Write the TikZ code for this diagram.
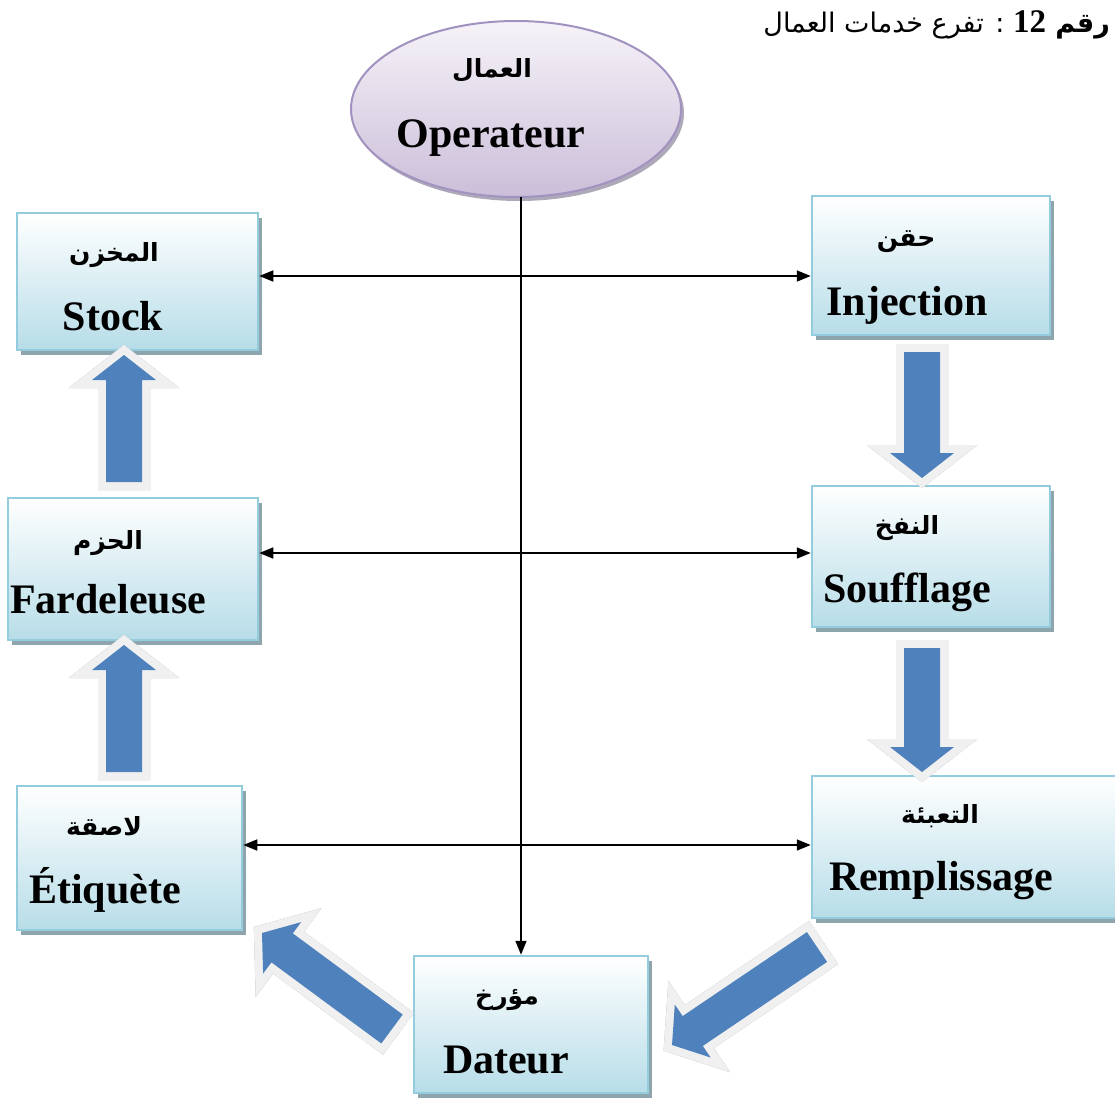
\documentclass[tikz,border=0pt]{standalone}
\usepackage{fontspec}
\setmainfont{Liberation Serif}
\newfontfamily\arabicfont[Script=Arabic]{DejaVu Sans}
\TeXXeTstate=1
\usetikzlibrary{arrows.meta,shadows,shapes.geometric,calc}

\definecolor{boxline}{HTML}{93CDDD}
\definecolor{boxbot}{HTML}{B7DDE8}
\definecolor{boxshadow}{HTML}{8FA5AD}
\definecolor{ellline}{HTML}{A292C0}
\definecolor{elltop}{HTML}{F6F3F8}
\definecolor{ellbot}{HTML}{CBBED9}
\definecolor{ellshadow}{HTML}{9A94A8}
\definecolor{flowblue}{HTML}{4F81BD}
\definecolor{flowrim}{HTML}{F0F0F0}
\definecolor{flowshadow}{HTML}{95A3B3}

\tikzset{
  stage/.style={rectangle, draw=boxline, line width=2.5pt, top color=white, bottom color=boxbot,
    inner sep=0pt, drop shadow={shadow xshift=4pt, shadow yshift=-5pt, fill=boxshadow, opacity=1}},
  worker/.style={ellipse, draw=ellline, line width=2pt, top color=elltop, bottom color=ellbot,
    inner sep=0pt, drop shadow={shadow xshift=3pt, shadow yshift=-4pt, fill=ellshadow, opacity=0.8}},
  latin/.style={font=\fontsize{42}{48}\selectfont\bfseries, inner sep=0pt, anchor=base},
  arab/.style={font=\arabicfont\fontsize{25}{30}\selectfont\bfseries, inner sep=0pt},
  link/.style={line width=1.6pt, draw=black},
  tip/.style={-{Triangle[length=14pt,width=11pt]}},
  tips/.style={{Triangle[length=14pt,width=11pt]}-{Triangle[length=14pt,width=11pt]}},
}

% block arrow outline from #1 (tail centre) to #2 (tip)
\newcommand\flowpath[2]{
  ($(#1)!18pt!90:(#2)$) -- ($($(#2)!25pt!(#1)$)!18pt!90:(#2)$)
  -- ($($(#2)!25pt!(#1)$)!32pt!90:(#2)$) -- (#2)
  -- ($($(#2)!25pt!(#1)$)!32pt!-90:(#2)$) -- ($($(#2)!25pt!(#1)$)!18pt!-90:(#2)$)
  -- ($(#1)!18pt!-90:(#2)$) -- cycle
}
\newcommand\flowarrow[2]{
  \filldraw[flowshadow, line width=16pt, xshift=4pt, yshift=-5pt] \flowpath{#1}{#2};
  \filldraw[flowrim, line width=16pt] \flowpath{#1}{#2};
  \fill[flowblue] \flowpath{#1}{#2};
}

\begin{document}
\begin{tikzpicture}[x=1pt, y=-1pt]
\useasboundingbox (0,0) rectangle (1115,1100);
\clip (0,0) rectangle (1115,1100);
\fill[white] (0,0) rectangle (1115,1100);

% caption
\node[anchor=base east, inner sep=0pt] (caption) at (1110,32)
  {\arabicfont\fontsize{27}{32}\selectfont\beginR{\bfseries رقم {\rmfamily\fontsize{33}{36}\selectfont\beginL 12\endL}} : تفرع خدمات العمال\endR};

% operator
\node[worker, minimum width=330, minimum height=176] (oper) at (516,109) {};
\node[arab] (operAr) at (492,70) {\beginR العمال\endR};
\node[latin] (operEn) at (491,147) {Operateur};

% stages
\node[stage, minimum width=241, minimum height=137] (stock) at (137.5,281.5) {};
\node[stage, minimum width=238, minimum height=139] (inj) at (931,265.5) {};
\node[stage, minimum width=250, minimum height=142] (fard) at (133,569) {};
\node[stage, minimum width=238, minimum height=141] (souf) at (931,556.5) {};
\node[stage, minimum width=225, minimum height=144] (etiq) at (129.5,858) {};
\node[stage, minimum width=313, minimum height=142] (remp) at (968.5,847) {};
\node[stage, minimum width=234, minimum height=137] (dat) at (531,1024.5) {};

\node[arab] (stockAr) at (114,255) {\beginR المخزن\endR};
\node[latin] (stockEn) at (113,330) {Stock};
\node[arab] (injAr) at (906,242) {\beginR حقن\endR};
\node[latin] (injEn) at (907,315) {Injection};
\node[arab] (fardAr) at (108,543) {\beginR الحزم\endR};
\node[latin] (fardEn) at (108,613) {Fardeleuse};
\node[arab] (soufAr) at (907,528) {\beginR النفخ\endR};
\node[latin] (soufEn) at (907,602) {Soufflage};
\node[arab] (etiqAr) at (104,826) {\beginR لاصقة\endR};
\node[latin] (etiqEn) at (105,903) {Étiquète};
\node[arab] (rempAr) at (940,816) {\beginR التعبئة\endR};
\node[latin] (rempEn) at (941,890) {Remplissage};
\node[arab] (datAr) at (507,1000) {\beginR مؤرخ\endR};
\node[latin] (datEn) at (506,1073) {Dateur};

% operator links
\coordinate (h1) at (0,276);
\coordinate (h2) at (0,553);
\coordinate (h3) at (0,845);
\coordinate (vtop) at (521,197);
\draw[link, tips] (stock.east |- h1) -- (inj.west |- h1);
\draw[link, tips] (fard.east |- h2) -- (souf.west |- h2);
\draw[link, tips] (etiq.east |- h3) -- (remp.west |- h3);
\draw[link, tip] (vtop) -- (vtop |- dat.north);

% production flow
\coordinate (f1a) at (922,352);  \coordinate (f1b) at (922,478);
\coordinate (f2a) at (922,648);  \coordinate (f2b) at (922,772);
\coordinate (f3a) at (817,947);  \coordinate (f3b) at (672,1045);
\coordinate (f4a) at (392,1029); \coordinate (f4b) at (262,933);
\coordinate (f5a) at (124,772);  \coordinate (f5b) at (124,645);
\coordinate (f6a) at (124,482);  \coordinate (f6b) at (124,355);
\flowarrow{f1a}{f1b}
\flowarrow{f2a}{f2b}
\flowarrow{f3a}{f3b}
\flowarrow{f4a}{f4b}
\flowarrow{f5a}{f5b}
\flowarrow{f6a}{f6b}
\end{tikzpicture}
\end{document}
